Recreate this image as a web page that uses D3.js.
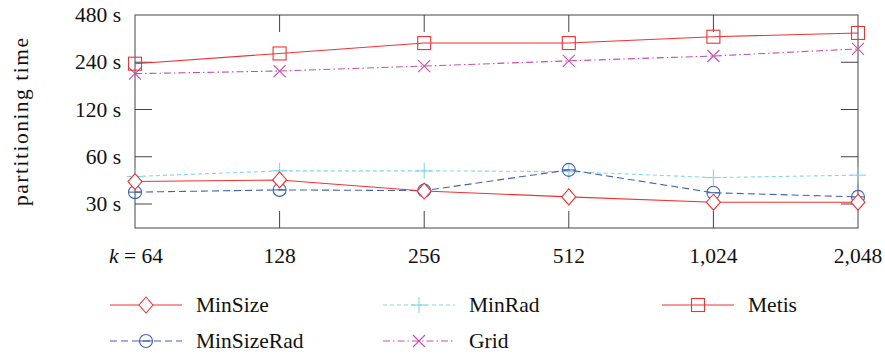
<!DOCTYPE html>
<html><head><meta charset="utf-8">
<script src="https://cdn.jsdelivr.net/npm/d3@7"></script>
<style>body{margin:0;background:#fff}</style>
</head><body><svg id="c" width="885" height="354"></svg>
<script>
const categories = [64, 128, 256, 512, 1024, 2048];
const xTickLabels = ["k = 64", "128", "256", "512", "1,024", "2,048"];
const yTicks = [30, 60, 120, 240, 480];
const minSize    = [41.7, 42.7, 36.3, 33.3, 30.8, 30.8];
const minSizeRad = [35.7, 36.9, 36.5, 49.5, 35.4, 33.3];
const minRad     = [44.9, 48.8, 48.8, 48.3, 44.2, 45.8];
const grid       = [203, 211, 227, 245, 263, 292];
const metis      = [235, 273, 318, 318, 349, 369];

const seriesDefs = [
  {name:"MinSize", values:minSize, color:"#f03232", dash:null, marker:"diamond"},
  {name:"MinRad", values:minRad, color:"#84d6e6", dash:"4,3", marker:"plus"},
  {name:"Metis", values:metis, color:"#f03232", dash:null, marker:"square"},
  {name:"MinSizeRad", values:minSizeRad, color:"#4262b4", dash:"7,4", marker:"circle"},
  {name:"Grid", values:grid, color:"#c250b0", dash:"7,3,1.5,3", marker:"cross"}
];

const FS = 21.5, FF = "Liberation Serif";
const svg = d3.select("#c");
const L=135, R=858, T=15, B=228;
const x = d3.scaleLog().base(2).domain([64,2048]).range([L,R]);
const y = d3.scaleLog().base(2).domain([21.1,480]).range([B,T]);

const g = svg.append("g");
g.append("rect").attr("x",L).attr("y",T).attr("width",R-L).attr("height",B-T)
 .attr("fill","none").attr("stroke","#444").attr("stroke-width",1);

function txt(sel){ return sel.append("text").attr("font-family",FF).attr("font-size",FS).attr("fill","#111"); }

categories.forEach((c,i)=>{
  const xx = x(c);
  if(i>0 && i<categories.length-1){
    g.append("line").attr("x1",xx).attr("x2",xx).attr("y1",T).attr("y2",T+17).attr("stroke","#444");
    g.append("line").attr("x1",xx).attr("x2",xx).attr("y1",B).attr("y2",B-17).attr("stroke","#444");
  }
  const t = txt(g).attr("x",i===0?xx+1:xx).attr("y",263).attr("text-anchor","middle");
  if(i===0){
    t.append("tspan").attr("font-style","italic").text("k");
    t.append("tspan").text(" = 64");
  } else t.text(xTickLabels[i]);
});
yTicks.forEach(v=>{
  const yy = y(v);
  if(v<480){
    g.append("line").attr("x1",L).attr("x2",L+17).attr("y1",yy).attr("y2",yy).attr("stroke","#444");
    g.append("line").attr("x1",R).attr("x2",R-17).attr("y1",yy).attr("y2",yy).attr("stroke","#444");
  }
  txt(g).attr("x",121).attr("y",yy+7).attr("text-anchor","end").text(v+" s");
});
txt(g).attr("transform","translate(28,122) rotate(-90)").attr("text-anchor","middle")
 .attr("textLength",168).attr("lengthAdjust","spacing").text("partitioning time");

function drawMarker(sel, type, cx, cy, color){
  const m = sel.append("g").attr("transform",`translate(${cx},${cy})`)
    .attr("fill","none").attr("stroke",color).attr("stroke-width",1.1);
  if(type==="diamond") m.append("path").attr("d","M0,-8L7,0L0,8L-7,0Z").attr("fill","#fff");
  if(type==="square") m.append("rect").attr("x",-6.5).attr("y",-6.5).attr("width",13).attr("height",13);
  if(type==="circle"){ m.append("circle").attr("r",6.5); m.append("line").attr("x1",-6.5).attr("x2",6.5); }
  if(type==="plus"){ m.append("line").attr("x1",-8).attr("x2",8); m.append("line").attr("y1",-8).attr("y2",8); }
  if(type==="cross"){ m.append("line").attr("x1",-6).attr("x2",6).attr("y1",-6).attr("y2",6); m.append("line").attr("x1",-6).attr("x2",6).attr("y1",6).attr("y2",-6); }
}

const line = d3.line().x(d=>x(d[0])).y(d=>y(d[1]));
const order = ["MinRad","Grid","Metis","MinSizeRad","MinSize"];
order.forEach(n=>{
  const s = seriesDefs.find(d=>d.name===n);
  const pts = categories.map((c,i)=>[c,s.values[i]]);
  g.append("path").attr("d",line(pts)).attr("fill","none").attr("stroke",s.color)
   .attr("stroke-width",1.1).attr("stroke-dasharray",s.dash);
  pts.forEach(p=>drawMarker(g,s.marker,x(p[0]),y(p[1]),s.color));
});

const cols=[110,383,662], rows=[305,341];
seriesDefs.forEach((s,i)=>{
  const cx = cols[i%3], cy = rows[Math.floor(i/3)];
  g.append("line").attr("x1",cx).attr("x2",cx+72).attr("y1",cy).attr("y2",cy)
   .attr("stroke",s.color).attr("stroke-width",1.1).attr("stroke-dasharray",s.dash);
  drawMarker(g,s.marker,cx+36,cy,s.color);
  txt(g).attr("x",cx+86).attr("y",cy+7).text(s.name);
});
</script></body></html>
